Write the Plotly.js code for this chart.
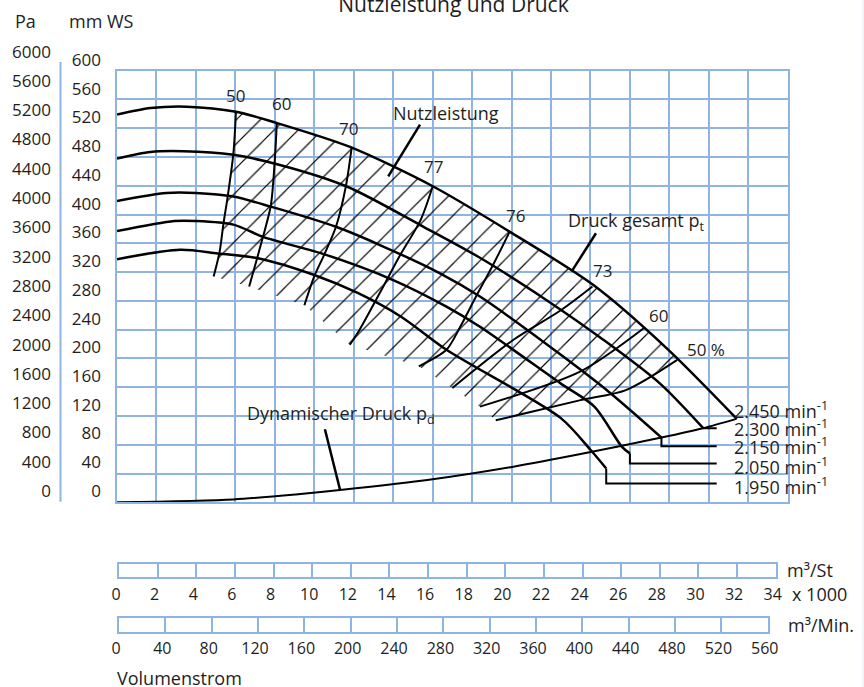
<!DOCTYPE html>
<html><head><meta charset="utf-8">
<script src="https://cdn.plot.ly/plotly-3.0.1.min.js"></script>
<style>html,body{margin:0;padding:0;background:#fff}#chart{width:864px;height:687px}</style>
</head><body><div id="chart"></div>
<script>
// ---- Data (x: Volumenstrom in 1000 m3/h, y: Druck in mm WS) ----
const speedLabels = ['2.450', '2.300', '2.150', '2.050', '1.950'];
const q2450 = [0, 1.7, 3.53, 6.03, 8.01, 11.81, 16.03, 19.92, 24.15, 27.87, 31.42];
const p2450 = [539, 548, 550, 543, 528, 494, 439, 376, 302, 214, 116];
const q2300 = [0, 1.7, 3.36, 5.90, 8.26, 11.65, 15.54, 18.40, 21.78, 24.65, 27.53, 29.72];
const p2300 = [478, 487, 488, 483, 469, 439, 383, 340, 281, 226, 165, 103];
const q2150 = [0, 2.5, 4.0, 5.9, 7.8, 11.1, 13.3, 16.4, 18.4, 22.5, 25.0, 27.6];
const p2150 = [419, 430, 430, 425, 411, 383, 358, 318, 286, 205, 152, 90];
const q2050 = [0, 2.9, 4.0, 5.9, 7.4, 10.6, 14.0, 16.7, 18.4, 22.5, 24.2, 25.6, 26.0];
const p2050 = [377, 391, 391, 386, 369, 344, 309, 272, 244, 165, 133, 77, 68];
const q1950 = [0, 3.2, 5.1, 7.2, 10.0, 12.2, 14.4, 16.7, 22.5, 24.0, 24.8];
const p1950 = [338, 351, 346, 339, 316, 291, 258, 212, 117, 73, 47];
const qDyn = [0, 5.9, 9.3, 11.3, 16.0, 20.1, 23.5, 27.6, 29.7, 31.4];
const pDyn = [0, 4, 11.5, 17, 32, 49.5, 67, 90, 103, 116];

// efficiency isolines (Wirkungsgrad %)
const effNames = ['50', '60', '70', '77', '76', '73', '60', '50 %'];
const qEff50a = [6.03, 5.9, 5.6, 5.4, 5.2, 4.9];     const pEff50a = [543, 485, 423, 388, 348, 314];
const qEff60a = [8.1, 8.0, 7.8, 7.4, 7.1, 6.7];      const pEff60a = [527, 476, 413, 369, 339, 300];
const qEff70 = [11.9, 11.6, 11.1, 10.5, 10.0, 9.5];  const pEff70 = [494, 439, 383, 344, 314, 274];
const qEff77 = [16.0, 15.4, 14.3, 13.5, 12.3, 11.8]; const pEff77 = [439, 393, 341, 300, 240, 219];
const qEff76 = [19.9, 19.1, 18.2, 17.4, 16.7, 15.3]; const pEff76 = [376, 332, 286, 244, 212, 189];
const qEff73 = [24.1, 22.5, 20.1, 17.0];             const pEff73 = [300, 267, 226, 159];
const qEff60b = [26.7, 23.5, 18.4];                  const pEff60b = [242, 182, 133];
const qEff50b = [28.4, 25.8, 23.5, 19.2];            const pEff50b = [198, 156, 142, 114];

// speed-label leader lines
const qLead2300 = [29.7, 30.4];        const pLead2300 = [103, 103];
const qLead2150 = [27.6, 27.6, 30.4];  const pLead2150 = [90, 78, 78];
const qLead2050 = [26.0, 26.0, 30.4];  const pLead2050 = [68, 54, 54];
const qLead1950 = [24.8, 24.8, 30.4];  const pLead1950 = [47, 26, 26];
// text leader lines
const qLeadNutz = [15.36, 13.75]; const pLeadNutz = [525, 453];
const qLeadPt = [24.28, 23.05];   const pLeadPt = [374, 321];
const qLeadPd = [10.54, 11.31];   const pLeadPd = [101.5, 17];

// axis ticks
const mmTicks = [0,40,80,120,160,200,240,280,320,360,400,440,480,520,560,600];
const paTicks = [0,400,800,1200,1600,2000,2400,2800,3200,3600,4000,4400,4800,5200,5600,6000];
const hourTicks = [0,2,4,6,8,10,12,14,16,18,20,22,24,26,28,30,32,34];
const minTicks = [0,40,80,120,160,200,240,280,320,360,400,440,480,520,560];

// ---- layout helpers ----
const W = 864, H = 687;
const dx = px => px / W;
const dy = py => 1 - py / H;
const BLUE = '#8DB4E2';
const FONT = 'Open Sans, DejaVu Sans, sans-serif';
const TXT = '#1e1e1e';

// hatched region polygon built from the curves
const hq = [], hp = [];
hq.push(qEff50a[0]); hp.push(pEff50a[0]);
for (let i = 0; i < q2450.length; i++) {
  if (q2450[i] > qEff50a[0] && q2450[i] < qEff50b[0]) { hq.push(q2450[i]); hp.push(p2450[i]); }
}
for (let i = 0; i < qEff50b.length; i++) { hq.push(qEff50b[i]); hp.push(pEff50b[i]); }
[[qEff60b,pEff60b],[qEff73,pEff73],[qEff76,pEff76],[qEff77,pEff77],[qEff70,pEff70],[qEff60a,pEff60a]].forEach(([a,b]) => {
  hq.push(a[a.length-1]); hp.push(b[b.length-1]);
});
for (let i = qEff50a.length - 1; i >= 0; i--) { hq.push(qEff50a[i]); hp.push(pEff50a[i]); }

const traces = [];
traces.push({x: hq, y: hp, mode: 'none', fill: 'toself', fillcolor: 'rgba(0,0,0,0)',
  fillpattern: {shape: '/', size: 17, solidity: 0.07, fgcolor: '#000', bgcolor: 'rgba(0,0,0,0)'},
  hoverinfo: 'skip', showlegend: false});

const curveLine = {color: '#000', width: 2.5, shape: 'spline', smoothing: 0.8};
[[q2450,p2450],[q2300,p2300],[q2150,p2150],[q2050,p2050],[q1950,p1950]].forEach(([a,b], i) => {
  traces.push({x: a, y: b, mode: 'lines', line: curveLine, name: speedLabels[i], showlegend: false});
});
traces.push({x: qDyn, y: pDyn, mode: 'lines', line: {color: '#000', width: 2, shape: 'spline', smoothing: 0.8}, showlegend: false});

const effLine = {color: '#000', width: 2, shape: 'spline', smoothing: 0.8};
[[qEff50a,pEff50a],[qEff60a,pEff60a],[qEff70,pEff70],[qEff77,pEff77],[qEff76,pEff76],[qEff73,pEff73],[qEff60b,pEff60b],[qEff50b,pEff50b]].forEach(([a,b], i) => {
  traces.push({x: a, y: b, mode: 'lines', line: effLine, name: effNames[i], showlegend: false});
});
[[qLead2300,pLead2300],[qLead2150,pLead2150],[qLead2050,pLead2050],[qLead1950,pLead1950]].forEach(([a,b]) => {
  traces.push({x: a, y: b, mode: 'lines', line: {color: '#000', width: 2}, showlegend: false});
});
[[qLeadNutz,pLeadNutz],[qLeadPt,pLeadPt],[qLeadPd,pLeadPd]].forEach(([a,b]) => {
  traces.push({x: a, y: b, mode: 'lines', line: {color: '#000', width: 2.5}, showlegend: false});
});
// dummy traces to create the extra axes
traces.push({x: [null], y: [null], xaxis: 'x4', yaxis: 'y2', showlegend: false});
traces.push({x: [null], y: [null], xaxis: 'x4', yaxis: 'y3', showlegend: false});
traces.push({x: [null], y: [null], xaxis: 'x2', yaxis: 'y4', showlegend: false});
traces.push({x: [null], y: [null], xaxis: 'x3', yaxis: 'y5', showlegend: false});

const gridAxis = {showgrid: true, gridcolor: BLUE, gridwidth: 2, showline: true, linecolor: BLUE, linewidth: 2,
  mirror: true, zeroline: false, ticks: '', fixedrange: true};
const yTickFont = {family: FONT, size: 17, color: TXT};
const xTickFont = {family: FONT, size: 16, color: TXT};

const anns = [];
function A(text, x, y, extra) { anns.push(Object.assign({text, x, y, xref: 'x', yref: 'y', showarrow: false,
  xanchor: 'center', yanchor: 'middle', font: {family: FONT, size: 18, color: TXT}}, extra || {})); }
function P(text, px, py, extra) { anns.push(Object.assign({text, x: dx(px), y: dy(py), xref: 'paper', yref: 'paper', showarrow: false,
  xanchor: 'center', yanchor: 'middle', font: {family: FONT, size: 18, color: TXT}}, extra || {})); }

const numFont = {font: {family: FONT, size: 17, color: TXT}};
A('50', 6.03, 565, numFont); A('60', 8.36, 554, numFont); A('70', 11.76, 519, numFont); A('77', 16.02, 467, numFont);
A('76', 20.18, 399, numFont); A('73', 24.59, 322, numFont); A('60', 27.43, 260, numFont); A('50 %', 29.86, 213, numFont);
A('Nutzleistung', 16.68, 541);
A('Druck gesamt p<sub>t</sub>', 26.31, 390);
A('Dynamischer Druck p<sub>d</sub>', 11.38, 121.5);
const spY = [128.3, 103.3, 78.3, 50.5, 23.1];
speedLabels.forEach((s, i) => A(s + ' min<sup>-1</sup>', 31.16, spY[i], {xanchor: 'left'}));

P('Pa', 25, 21); P('mm WS', 101.7, 21);
P('m³/St', 785, 570, {xanchor: 'left'});
P('x 1000', 790, 594, {xanchor: 'left'});
P('m³/Min.', 786, 625, {xanchor: 'left'});
P('Volumenstrom', 115, 678, {xanchor: 'left'});

const layout = {
  width: W, height: H, margin: {l: 0, r: 0, t: 0, b: 0}, paper_bgcolor: '#fff', plot_bgcolor: 'rgba(0,0,0,0)',
  showlegend: false,
  title: {text: 'Nutzleistung und Druck', x: 453.5 / W, xanchor: 'center', y: 1 - 5 / H, yanchor: 'middle',
    font: {family: FONT, size: 21, color: TXT}},
  xaxis: Object.assign({}, gridAxis, {domain: [dx(117), dx(787.7)], range: [0, 34], tick0: 0, dtick: 2, showticklabels: false, anchor: 'y'}),
  yaxis: Object.assign({}, gridAxis, {domain: [dy(502.3), dy(70.7)], range: [0, 600], tick0: 0, dtick: 40, showticklabels: false, anchor: 'x'}),
  xaxis4: {domain: [0, 0.01], visible: false, anchor: 'y2', fixedrange: true},
  yaxis2: {domain: [dy(510), dy(40)], range: [-26.45, 627.8], tickvals: mmTicks, anchor: 'free', position: dx(101), side: 'left',
    showgrid: false, showline: false, zeroline: false, ticks: '', tickfont: yTickFont, fixedrange: true},
  yaxis3: {domain: [dy(510), dy(40)], range: [-259.5, 6159.5], tickvals: paTicks, anchor: 'free', position: dx(51), side: 'left',
    showgrid: false, showline: false, zeroline: false, ticks: '', tickfont: yTickFont, fixedrange: true},
  xaxis2: Object.assign({}, gridAxis, {domain: [dx(119), dx(775.7)], range: [0, 34], tickvals: hourTicks, anchor: 'y4',
    tickfont: xTickFont, ticklabelshift: -3, ticklabelstandoff: 1}),
  yaxis4: {domain: [dy(577.3), dy(564)], range: [0, 1], anchor: 'x2', showgrid: false, showline: true, mirror: true,
    linecolor: BLUE, linewidth: 2, showticklabels: false, ticks: '', zeroline: false, fixedrange: true},
  xaxis3: Object.assign({}, gridAxis, {domain: [dx(119), dx(767.7)], range: [0, 560], tickvals: minTicks, anchor: 'y5',
    tickfont: xTickFont, ticklabelshift: -3, ticklabelstandoff: 1}),
  yaxis5: {domain: [dy(631.7), dy(618.3)], range: [0, 1], anchor: 'x3', showgrid: false, showline: true, mirror: true,
    linecolor: BLUE, linewidth: 2, showticklabels: false, ticks: '', zeroline: false, fixedrange: true},
  shapes: [
    {type: 'line', xref: 'paper', yref: 'paper', x0: dx(60.5), x1: dx(60.5), y0: dy(62), y1: dy(501.7), line: {color: BLUE, width: 2}},
    {type: 'line', xref: 'paper', yref: 'paper', x0: dx(863), x1: dx(863), y0: 0, y1: 1, line: {color: '#e3e9f1', width: 1}}
  ],
  annotations: anns
};

Plotly.newPlot('chart', traces, layout, {displayModeBar: false, staticPlot: true});
</script></body></html>
